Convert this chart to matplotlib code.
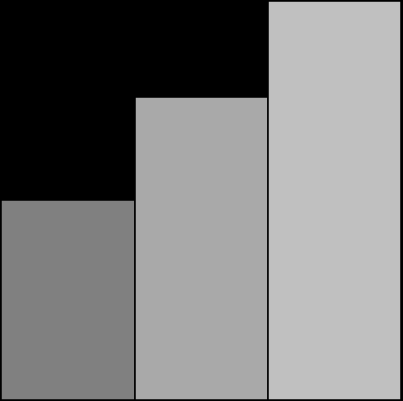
import numpy as np
import matplotlib
matplotlib.use('Agg')
import matplotlib.pyplot as plt

# bar values and colours
categories = ['A', 'B', 'C']
values = [50, 76, 100]
colors = ['#808080', '#a9a9a9', '#c0c0c0']

fig = plt.figure(figsize=(4.03, 4.02), dpi=100, facecolor='black')
ax = fig.add_axes([0, 0, 1, 1])
ax.set_facecolor('black')

x = np.arange(len(categories))
ax.bar(x, values, width=1.0, color=colors, edgecolor='black', linewidth=1.1)

ax.set_xlim(-0.51, 2.515)
ax.set_ylim(-0.3, 100.5)
ax.axis('off')

fig.savefig('out.png', dpi=100, facecolor='black')
